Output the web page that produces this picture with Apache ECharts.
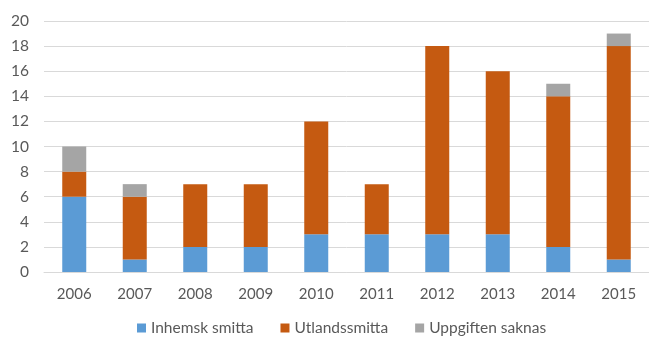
<!DOCTYPE html>
<html><head><meta charset="utf-8">
<script src="https://cdn.jsdelivr.net/npm/echarts@6/dist/echarts.min.js"></script>
<style>html,body{margin:0;padding:0;background:#fff}#c{width:649px;height:338px}</style>
</head><body><div id="c"></div>
<script>
const years = ['2006','2007','2008','2009','2010','2011','2012','2013','2014','2015'];
const inhemsk = [6,1,2,2,3,3,3,3,2,1];
const utlands = [2,5,5,5,9,4,15,13,12,17];
const saknas = [2,1,0,0,0,0,0,0,1,1];
const names = ['Inhemsk smitta','Utlandssmitta','Uppgiften saknas'];
const colors = ['#5b9bd5','#c55a11','#a5a5a5'];
const font = 'Lato, sans-serif';
const chart = echarts.init(document.getElementById('c'));
const mk = (n,d,c)=>({name:n,type:'bar',stack:'a',data:d,barWidth:24,itemStyle:{color:c},animation:false});
chart.setOption({
  animation:false,
  textStyle:{fontFamily:font},
  grid:{left:44,width:615,top:21,bottom:66,containLabel:false},
  legend:{top:320,left:137,padding:0,itemWidth:9,itemHeight:9,itemGap:27,icon:'rect',
    textStyle:{color:'#595959',fontSize:15.5,fontFamily:font},data:names},
  xAxis:{type:'category',data:years,axisTick:{show:false},
    axisLine:{lineStyle:{color:'#d9d9d9'}},
    axisLabel:{color:'#595959',fontSize:15,margin:15,fontFamily:font}},
  yAxis:{type:'value',min:0,max:20,interval:2,
    axisLabel:{color:'#595959',fontSize:15.5,margin:15,fontFamily:font},
    splitLine:{lineStyle:{color:'#d9d9d9',width:1}}},
  series:[mk(names[0],inhemsk,colors[0]),mk(names[1],utlands,colors[1]),mk(names[2],saknas,colors[2])]
});
</script></body></html>
